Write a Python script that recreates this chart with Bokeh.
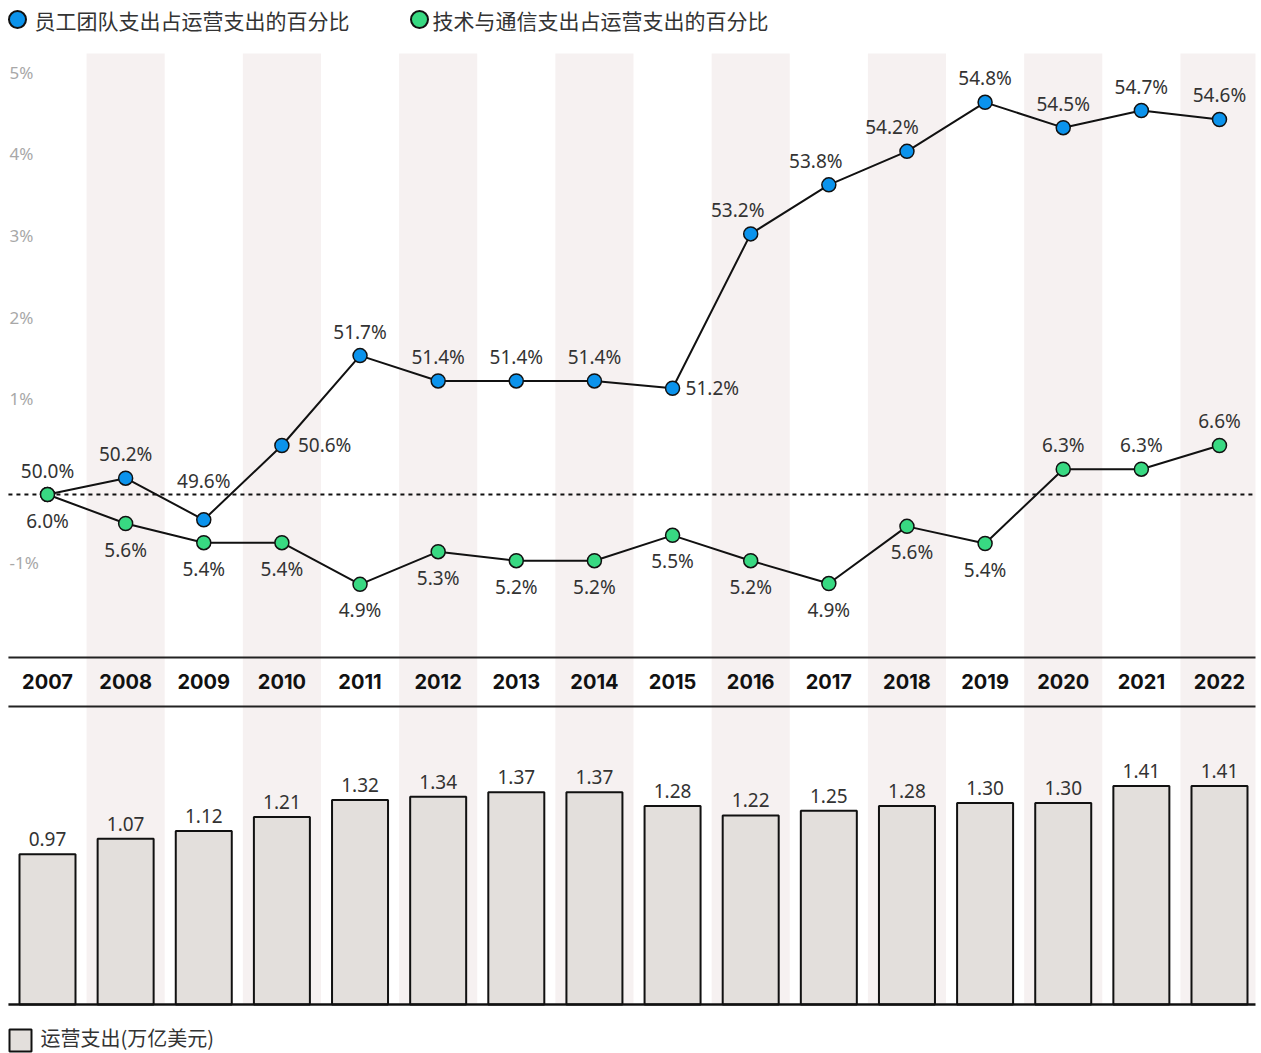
from bokeh.plotting import figure
from bokeh.models import Range1d, ColumnDataSource
from bokeh.embed import file_html
from bokeh.resources import INLINE
from bokeh.core.properties import value

# ---------------- data ----------------
years = list(range(2007, 2023))
staff_share = [50.0, 50.2, 49.69, 50.6, 51.7, 51.39, 51.39, 51.39, 51.3,
               53.19, 53.79, 54.2, 54.8, 54.49, 54.7, 54.59]
staff_labels = ["50.0%", "50.2%", "49.6%", "50.6%", "51.7%", "51.4%", "51.4%", "51.4%",
                "51.2%", "53.2%", "53.8%", "54.2%", "54.8%", "54.5%", "54.7%", "54.6%"]
tech_share = [6.0, 5.645, 5.41, 5.41, 4.9, 5.3, 5.19, 5.19, 5.5,
              5.19, 4.91, 5.61, 5.4, 6.31, 6.31, 6.6]
tech_labels = ["6.0%", "5.6%", "5.4%", "5.4%", "4.9%", "5.3%", "5.2%", "5.2%",
               "5.5%", "5.2%", "4.9%", "5.6%", "5.4%", "6.3%", "6.3%", "6.6%"]
opex = [0.97, 1.07, 1.12, 1.21, 1.32, 1.34, 1.37, 1.37,
        1.28, 1.22, 1.25, 1.28, 1.30, 1.30, 1.41, 1.41]
opex_labels = ["%.2f" % v for v in opex]
y_ticks = [5, 4, 3, 2, 1, -1]
y_tick_labels = ["5%", "4%", "3%", "2%", "1%", "-1%"]
legend_staff = "员工团队支出占运营支出的百分比"
legend_tech = "技术与通信支出占运营支出的百分比"
legend_opex = "运营支出(万亿美元)"

# change versus first year (percentage points)
staff_off = [v - staff_share[0] for v in staff_share]
tech_off = [v - tech_share[0] for v in tech_share]

# ---------------- layout / style ----------------
W, H = 1261, 1053
U = 78.133                      # px per year
XL = 2006.5
XR = 2022 + 36 / U
X0 = 2007 - 47 / U
BLUE = "#0b93ec"
GREEN = "#38d982"
BAND = "#f6f1f1"
BARFILL = "#e3dfdc"
TXT = "#333333"
NUMFONT = value("Noto Sans")
CJK = value("Noto Sans CJK SC")

p = figure(width=W, height=H, output_backend="svg", toolbar_location=None,
           x_range=Range1d(X0, X0 + W / U),
           y_range=Range1d((494 - H) / 81.7, 494 / 81.7),
           x_axis_location=None, y_axis_location=None,
           min_border=0, outline_line_color=None)
p.extra_y_ranges = {"bars": Range1d((1004 - H) / 155.0, 1004 / 155.0),
                    "px": Range1d(H, 0)}
p.extra_x_ranges = {"px": Range1d(0, W)}
p.grid.grid_line_color = None
p.background_fill_color = "white"
p.border_fill_color = "white"

# alternating bands
even = [y for y in years if y % 2 == 0]
p.quad(left=[y - 0.5 for y in even], right=[min(y + 0.5, XR) for y in even],
       top=53, bottom=1003, y_range_name="px", fill_color=BAND, line_color=None)

# zero (dashed) line
p.segment(x0=[XL], x1=[XR], y0=[0], y1=[0], line_color="#111111",
          line_width=2, line_dash="4 4")

# separators around year row
p.segment(x0=[XL, XL], x1=[XR, XR], y0=[657, 706], y1=[657, 706],
          y_range_name="px", line_color="#222222", line_width=2)

# y tick labels
p.text(x=9, y=y_ticks, text=y_tick_labels, x_range_name="px",
       y_offset=-14, text_align="left", text_baseline="middle",
       text_color="#a8a8a8", text_font_size="17px", text_font=NUMFONT)

# year labels
p.text(x=years, y=681, text=[str(y) for y in years], y_range_name="px",
       text_align="center", text_baseline="middle", text_color="#111111",
       text_font_size="20px", text_font_style="bold", text_font=value("Inter"))

# bars
p.vbar(x=years, top=opex, bottom=0, width=56 / U, y_range_name="bars",
       fill_color=BARFILL, line_color="#111111", line_width=2)
p.segment(x0=[XL], x1=[XR], y0=[0], y1=[0], y_range_name="bars",
          line_color="#111111", line_width=2.5)
p.text(x=years, y=opex, text=opex_labels, y_range_name="bars", y_offset=-15,
       text_align="center", text_baseline="middle", text_color=TXT,
       text_font_size="19px", text_font=NUMFONT)

# lines
p.line(years, staff_off, line_color="#111111", line_width=2)
p.line(years, tech_off, line_color="#111111", line_width=2)
p.scatter(years, staff_off, size=14, fill_color=BLUE, line_color="#111111", line_width=1.5)
p.scatter(years, tech_off, size=14, fill_color=GREEN, line_color="#111111", line_width=1.5)

# value labels (placement styles)
staff_dx = [0] * 16
staff_dy = [-24] * 16
staff_dy[2] = -39
staff_dx[9] = -13
staff_dx[10] = -13
staff_dx[11] = -15
right_idx = {3: 16, 8: 13}
tech_dx = [0] * 16
tech_dy = [26] * 16
tech_dx[11] = 5
for i in (13, 14, 15):
    tech_dy[i] = -24

cidx = [i for i in range(16) if i not in right_idx]
src_c = ColumnDataSource(dict(x=[years[i] for i in cidx], y=[staff_off[i] for i in cidx],
                              t=[staff_labels[i] for i in cidx],
                              dx=[staff_dx[i] for i in cidx], dy=[staff_dy[i] for i in cidx]))
p.text(x="x", y="y", text="t", x_offset="dx", y_offset="dy", source=src_c,
       text_align="center", text_baseline="middle", text_color=TXT,
       text_font_size="19px", text_font=NUMFONT)
ridx = list(right_idx.keys())
src_r = ColumnDataSource(dict(x=[years[i] for i in ridx], y=[staff_off[i] for i in ridx],
                              t=[staff_labels[i] for i in ridx],
                              dx=[right_idx[i] for i in ridx]))
p.text(x="x", y="y", text="t", x_offset="dx", source=src_r,
       text_align="left", text_baseline="middle", text_color=TXT,
       text_font_size="19px", text_font=NUMFONT)
src_t = ColumnDataSource(dict(x=years, y=tech_off, t=tech_labels, dx=tech_dx, dy=tech_dy))
p.text(x="x", y="y", text="t", x_offset="dx", y_offset="dy", source=src_t,
       text_align="center", text_baseline="middle", text_color=TXT,
       text_font_size="19px", text_font=NUMFONT)

# legends
p.scatter(x=[17, 419], y=[19, 19], x_range_name="px", y_range_name="px",
          size=17, fill_color=[BLUE, GREEN], line_color="#111111", line_width=2)
p.text(x=[34, 432], y=[19, 19], text=[legend_staff, legend_tech],
       x_range_name="px", y_range_name="px", text_align="left",
       text_baseline="middle", text_color=TXT, text_font_size="21px", text_font=CJK)
p.quad(left=[9], right=[31], top=[1029], bottom=[1051], x_range_name="px",
       y_range_name="px", fill_color=BARFILL, line_color="#111111", line_width=2)
p.text(x=[40], y=[1037], text=[legend_opex], x_range_name="px", y_range_name="px",
       text_align="left", text_baseline="middle", text_color=TXT,
       text_font_size="20px", text_font=CJK)

open("out.html", "w").write(file_html(p, INLINE))
